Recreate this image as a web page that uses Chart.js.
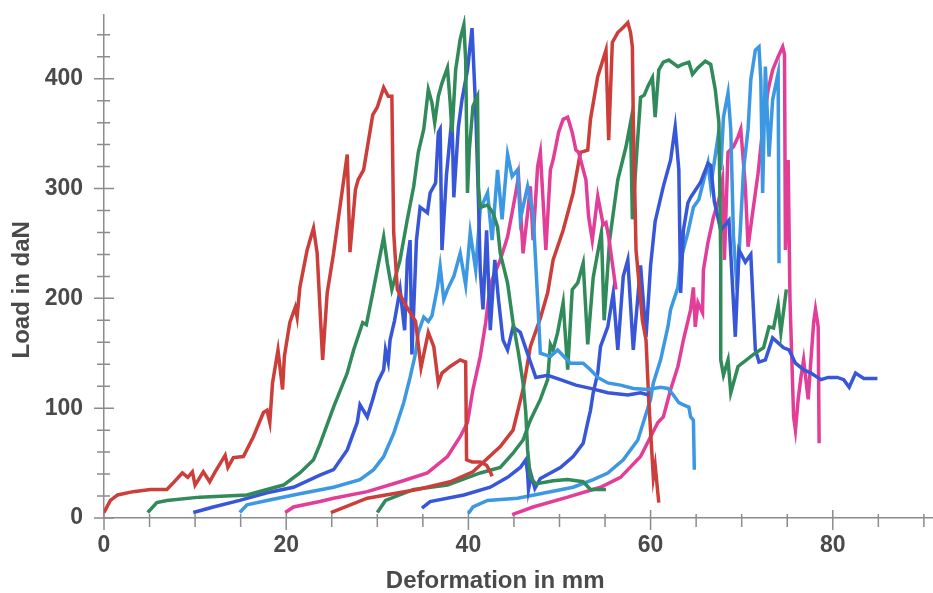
<!DOCTYPE html>
<html>
<head>
<meta charset="utf-8">
<script src="https://cdn.jsdelivr.net/npm/chart.js@4"></script>
<style>
  body { margin: 0; background: #ffffff; }
  #wrap { width: 933px; height: 593px; position: relative; }
</style>
</head>
<body>
<div id="wrap"><canvas id="loadChart"></canvas></div>
<script>
// load / deformation curves, one test every 5 mm of offset  [deformation mm, load daN]
const testRed0 = [[0,5],[0.7,16],[1.5,21],[3.2,24],[5.1,26],[6.9,26],[7.6,32],[8.6,41],[9.2,37],[9.7,42],[10.0,30],[10.9,42],[11.6,33],[12.2,42],[13.3,57],[13.6,46],[14.2,55],[15.3,56],[16.4,74],[17.5,96],[17.9,98],[18.2,87],[18.5,123],[19.1,153],[19.6,117],[19.8,147],[20.4,178],[21.0,192],[21.2,183],[21.5,210],[22.3,244],[23.0,264],[23.4,241],[24.0,144],[24.5,205],[25.2,241],[26.7,331],[27.0,242],[27.6,299],[27.9,308],[28.5,317],[29.5,367],[30.0,374],[30.7,392],[31.2,384],[31.6,384],[31.8,260],[32.2,208],[33.1,194],[34.2,179],[34.8,137],[35.6,169],[36.2,156],[36.7,123],[37.1,132],[38.0,138],[39.1,144],[39.7,142],[39.8,53],[40.4,51],[41.3,51],[42.0,48],[42.4,42],[42.6,38]];
const testGreen5 = [[4.8,5],[5.8,14],[6.9,16],[10.5,19],[15.7,21],[17.9,26],[19.7,30],[21.5,41],[23.0,53],[23.7,67],[25.2,101],[26.7,132],[27.4,153],[28.4,178],[28.8,176],[29.5,205],[30.7,256],[31.1,232],[31.6,208],[32.5,235],[33.3,272],[34.0,302],[34.5,333],[35.1,354],[35.6,390],[36.0,378],[36.3,360],[36.7,384],[37.1,396],[37.7,410],[38.0,378],[38.2,351],[38.6,408],[39.1,436],[39.5,449],[39.7,417],[39.9,296],[40.1,335],[40.5,375],[41.0,384],[41.1,302],[41.3,283],[42.1,285],[42.7,278],[43.2,265],[43.5,241],[44.3,214],[44.9,178],[45.5,150],[46.0,123],[46.3,96],[46.5,62],[46.8,37],[47.4,31],[49.3,34],[50.9,35],[52.6,33],[53.4,26],[55.1,26]];
const testBlue10 = [[9.8,5],[12.0,10],[14.9,16],[17.9,23],[20.8,28],[23.7,39],[25.2,44],[26.7,62],[27.8,87],[28.1,103],[28.9,92],[29.5,108],[30.0,123],[30.7,135],[30.9,153],[31.2,142],[31.4,162],[31.9,180],[32.5,208],[33.0,171],[33.3,235],[33.6,253],[33.8,149],[34.3,253],[34.7,283],[35.5,278],[35.8,296],[36.4,305],[36.7,351],[36.9,354],[37.1,244],[37.6,313],[38.2,365],[38.4,292],[38.9,356],[39.3,381],[39.9,408],[40.4,446],[40.8,372],[41.1,290],[41.3,226],[41.6,190],[42.0,262],[42.4,171],[42.9,235],[43.3,199],[43.8,162],[44.3,153],[44.9,174],[45.7,169],[46.6,147],[47.4,128],[48.7,130],[50.1,126],[51.8,121],[53.4,118],[55.3,114],[57.5,112],[58.9,114],[59.8,112]];
const testAzure15 = [[14.9,5],[15.7,12],[17.9,16],[21.5,22],[25.2,28],[28.1,35],[29.6,44],[30.7,56],[31.8,77],[32.9,105],[33.6,128],[34.2,150],[34.5,169],[35.1,183],[35.6,179],[36.0,184],[36.6,210],[36.9,229],[37.3,199],[37.7,208],[38.4,220],[39.1,241],[39.7,212],[40.2,260],[40.8,226],[41.3,281],[42.1,296],[42.6,253],[43.2,317],[43.7,272],[44.3,331],[44.8,311],[45.4,317],[45.7,272],[46.5,302],[47.1,278],[47.6,199],[47.9,150],[49.0,147],[49.8,153],[51.2,141],[52.6,141],[53.4,135],[54.2,128],[55.3,123],[56.7,121],[58.1,118],[59.7,117],[61.1,119],[61.9,118],[62.5,112],[63.1,105],[63.6,103],[64.2,101],[64.4,92],[64.7,89],[64.8,44]];
const testPink20 = [[19.9,5],[20.8,10],[23.7,15],[25.2,18],[28.9,24],[32.5,33],[35.5,41],[37.7,56],[39.1,74],[39.9,87],[40.5,117],[41.3,147],[41.9,178],[42.2,199],[42.6,217],[43.5,235],[44.3,256],[44.8,278],[45.2,296],[45.5,311],[46.0,241],[46.5,278],[46.8,302],[47.1,253],[47.6,320],[47.9,333],[48.5,244],[49.0,317],[49.3,326],[49.9,351],[50.4,363],[50.9,365],[51.4,351],[51.8,335],[52.1,333],[52.9,308],[53.2,274],[53.6,253],[54.2,293],[54.8,267],[55.1,269],[55.4,256],[55.9,226],[56.2,208]];
const testRed25 = [[24.9,5],[28.9,18],[34.4,26],[38.0,33],[40.5,42],[43.5,65],[44.9,80],[46.0,117],[46.8,156],[47.9,182],[48.7,205],[49.3,235],[50.4,262],[51.5,296],[52.3,333],[53.1,335],[53.4,363],[54.2,402],[55.1,426],[55.4,344],[55.8,433],[56.4,442],[56.9,446],[57.5,451],[57.8,442],[58.0,429],[58.1,363],[58.4,244],[59.1,180],[59.5,162],[59.8,107],[60.3,37],[60.5,48],[60.9,14]];
const testGreen30 = [[30.0,5],[30.9,16],[34.0,26],[37.7,30],[41.3,41],[43.5,46],[44.9,59],[46.0,71],[46.8,89],[47.9,108],[48.7,126],[49.0,158],[49.3,153],[49.8,169],[50.4,196],[50.9,135],[51.4,208],[52.0,214],[52.6,232],[53.1,158],[53.7,219],[54.6,260],[54.9,180],[55.5,253],[56.4,308],[57.3,338],[57.8,360],[58.0,272],[58.5,335],[58.9,383],[59.3,385],[59.7,393],[60.2,401],[60.5,365],[60.9,408],[61.4,415],[62.0,417],[63.0,411],[63.5,413],[64.2,415],[64.6,404],[65.2,410],[66.0,416],[66.6,413],[67.1,390],[67.5,360],[67.7,235],[67.7,144],[68.0,130],[68.5,144],[68.8,114],[69.6,138],[71.3,149],[72.4,155],[73.0,174],[73.5,173],[74.0,194],[74.3,169],[74.9,208]];
const testBlue35 = [[34.9,9],[35.8,15],[39.5,21],[42.4,28],[44.3,37],[45.7,46],[46.3,53],[46.5,41],[46.6,26],[46.9,39],[47.3,27],[47.9,36],[50.1,46],[51.5,56],[52.6,68],[53.1,87],[53.4,98],[53.7,114],[54.2,132],[54.5,156],[55.3,174],[55.9,205],[56.4,153],[57.0,220],[57.5,235],[58.1,153],[58.9,230],[59.5,165],[60.0,230],[60.5,270],[61.4,302],[62.2,326],[62.7,356],[63.1,317],[63.3,205],[63.6,262],[64.1,287],[64.4,292],[65.2,302],[65.5,306],[66.3,323],[66.6,321],[67.0,288],[67.7,262],[68.6,271],[69.3,165],[69.7,244],[70.4,233],[71.0,240],[71.5,153],[71.9,142],[72.6,144],[73.4,164],[74.6,155],[75.2,153],[75.9,141],[76.8,135],[77.6,132],[78.7,126],[79.5,128],[80.5,128],[81.2,126],[81.8,119],[82.5,132],[83.4,127],[84.9,127]];
const testAzure40 = [[40.0,4],[40.5,10],[42.1,16],[45.4,18],[47.9,22],[51.5,28],[53.7,35],[55.3,41],[57.0,53],[58.6,71],[59.2,87],[60.0,108],[60.3,123],[61.1,144],[61.9,174],[62.2,190],[63.0,210],[63.3,235],[64.1,260],[64.7,283],[65.3,290],[66.3,323],[66.6,302],[67.4,347],[67.7,317],[68.0,365],[68.5,387],[68.8,354],[69.1,256],[69.5,208],[70.2,317],[70.7,354],[71.0,399],[71.5,426],[71.9,429],[72.1,399],[72.3,296],[72.6,411],[73.0,329],[73.4,381],[74.0,405],[74.1,232]];
const testPink45 = [[44.8,3],[47.1,10],[50.9,19],[54.5,28],[56.7,37],[58.9,56],[60.0,74],[60.8,87],[61.4,92],[62.2,117],[63.0,138],[63.6,162],[64.4,190],[64.7,210],[64.9,174],[65.2,196],[65.7,187],[65.8,226],[66.3,251],[66.9,274],[67.5,290],[67.9,308],[68.1,235],[68.5,333],[69.1,338],[69.6,347],[69.9,354],[70.4,302],[70.7,247],[71.2,278],[71.8,314],[72.3,354],[72.9,390],[73.4,408],[74.0,420],[74.5,429],[74.7,422],[74.8,244],[75.1,326],[75.3,199],[75.7,92],[75.9,80],[76.2,108],[76.5,128],[76.8,144],[77.3,108],[77.6,144],[77.9,178],[78.1,190],[78.4,174],[78.5,68]];

const curveColors = {
  red: 'rgb(204,62,58)',
  green: 'rgb(48,138,90)',
  blue: 'rgb(56,86,216)',
  azure: 'rgb(60,152,226)',
  pink: 'rgb(226,62,152)'
};

const tests = [
  { data: testRed0, color: curveColors.red },
  { data: testGreen5, color: curveColors.green },
  { data: testBlue10, color: curveColors.blue },
  { data: testAzure15, color: curveColors.azure },
  { data: testPink20, color: curveColors.pink },
  { data: testRed25, color: curveColors.red },
  { data: testGreen30, color: curveColors.green },
  { data: testBlue35, color: curveColors.blue },
  { data: testAzure40, color: curveColors.azure },
  { data: testPink45, color: curveColors.pink }
];

// tick marks that cross the axis lines, longer on labelled values
const crossTicks = {
  id: 'crossTicks',
  beforeDatasetsDraw(chart) {
    const ctx = chart.ctx;
    const xs = chart.scales.x, ys = chart.scales.y;
    ctx.save();
    ctx.strokeStyle = '#8c8c8c';
    ctx.lineWidth = 1.5;
    ctx.beginPath();
    xs.ticks.forEach(t => {
      const px = xs.getPixelForValue(t.value);
      const major = t.value % 20 === 0;
      ctx.moveTo(px, xs.top - (major ? 8 : 4));
      ctx.lineTo(px, xs.top + (major ? 12 : 9));
    });
    ys.ticks.forEach(t => {
      const py = ys.getPixelForValue(t.value);
      const major = t.value % 100 === 0;
      ctx.moveTo(ys.right - (major ? 10 : 7), py);
      ctx.lineTo(ys.right + (major ? 10 : 6), py);
    });
    ctx.stroke();
    ctx.restore();
  }
};

const labelFont = { family: 'Liberation Sans, Arial, sans-serif', size: 23, weight: 'bold' };
const titleFont = { family: 'Liberation Sans, Arial, sans-serif', size: 24, weight: 'bold', lineHeight: 1 };

new Chart(document.getElementById('loadChart'), {
  type: 'line',
  data: {
    datasets: tests.map(t => ({
      data: t.data,
      borderColor: t.color,
      borderWidth: 3.5,
      pointRadius: 0,
      tension: 0,
      fill: false
    }))
  },
  options: {
    responsive: true,
    maintainAspectRatio: false,
    animation: false,
    layout: { padding: { top: 15, right: 0, left: 0, bottom: 0 } },
    plugins: {
      legend: { display: false },
      tooltip: { enabled: false }
    },
    scales: {
      x: {
        type: 'linear',
        min: 0,
        max: 91,
        afterFit(scale) {
          scale.height = 75;
          scale.paddingLeft = 0;
          scale.paddingRight = 0;
        },
        grid: { display: true, drawOnChartArea: false, drawTicks: false },
        border: { display: true, color: '#8c8c8c', width: 1.5 },
        ticks: {
          stepSize: 5,
          includeBounds: false,
          autoSkip: false,
          maxRotation: 0,
          padding: 14,
          color: '#4a4a4a',
          font: labelFont,
          callback: v => (v % 20 === 0 ? v : '')
        },
        title: {
          display: true,
          text: 'Deformation in mm       ',
          color: '#4a4a4a',
          font: titleFont,
          padding: { top: 0, bottom: 0 }
        }
      },
      y: {
        min: 0,
        max: 458,
        afterFit(scale) {
          scale.width = 104;
          scale.paddingTop = 0;
          scale.paddingBottom = 0;
        },
        grid: { display: true, drawOnChartArea: false, drawTicks: false },
        border: { display: true, color: '#8c8c8c', width: 1.5 },
        ticks: {
          stepSize: 20,
          includeBounds: false,
          autoSkip: false,
          padding: 21,
          color: '#4a4a4a',
          font: labelFont,
          callback: v => (v % 100 === 0 ? v : '')
        },
        title: {
          display: true,
          text: 'Load in daN       ',
          color: '#4a4a4a',
          font: titleFont,
          padding: { top: 10, bottom: 0 }
        }
      }
    }
  },
  plugins: [crossTicks]
});
</script>
</body>
</html>
